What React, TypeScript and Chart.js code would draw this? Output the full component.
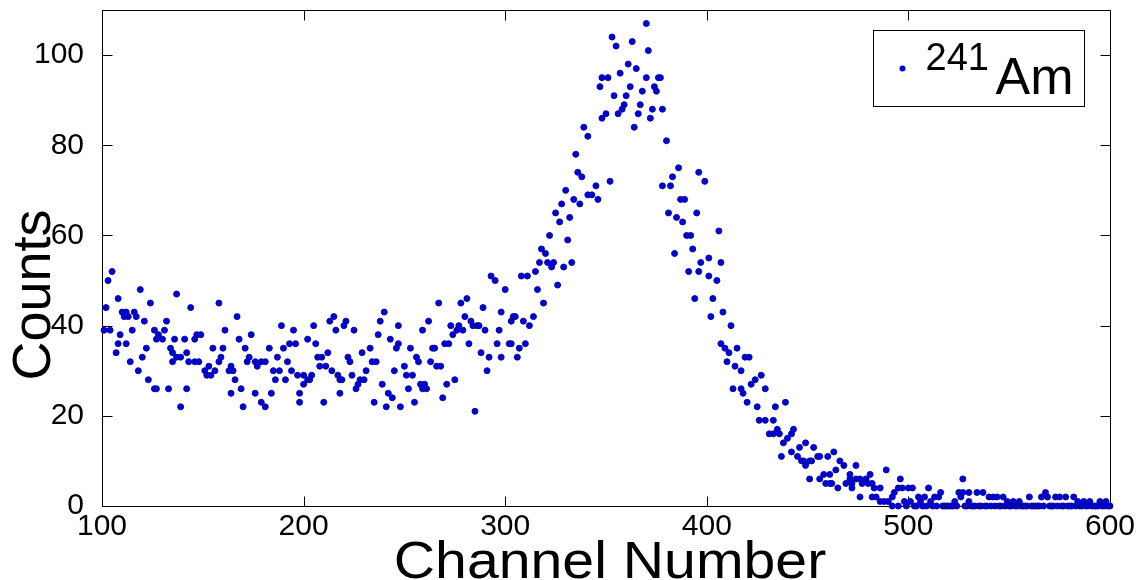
import { useEffect, useRef } from "react";
import { Chart, registerables } from "chart.js";

Chart.register(...registerables);

// 241Am pulse-height spectrum, channels 100–600
const ch100 = [
  101, 102, 103, 104, 105, 107, 108, 108, 109, 110,
  111, 112, 112, 113, 114, 115, 116, 117, 118, 119,
  120, 121, 122, 123, 124, 126, 126, 127, 127, 128,
  130, 131, 132, 133, 134, 135, 135, 136, 137, 137,
  139, 139, 141, 142, 142, 143, 144, 146, 146, 147,
  148, 149, 151, 152, 153, 154, 155, 156, 158, 158,
  159, 160, 161, 163, 164, 164, 165, 166, 167, 168,
  169, 170, 171, 172, 173, 174, 176, 176, 177, 179,
  179, 181, 181, 183, 184, 185, 186, 187, 188, 189,
  190, 191, 192, 193, 194, 195, 196, 197, 198, 198,
];
const cnt100 = [
  39, 44, 50, 39, 52, 34, 46, 36, 38, 43,
  42, 43, 36, 42, 32, 39, 43, 42, 30, 48,
  33, 41, 35, 28, 45, 39, 26, 37, 26, 38,
  37, 39, 41, 26, 35, 34, 32, 37, 47, 33,
  33, 22, 37, 34, 26, 32, 44, 37, 32, 38,
  32, 38, 30, 29, 31, 29, 35, 30, 45, 32,
  33, 35, 39, 30, 31, 25, 30, 28, 42, 37,
  26, 22, 35, 32, 33, 38, 32, 25, 31, 32,
  23, 32, 22, 35, 25, 30, 28, 33, 30, 40,
  35, 28, 32, 36, 30, 39, 36, 29, 25, 23,
];

const ch200 = [
  200, 200, 202, 202, 203, 204, 205, 206, 207, 208,
  209, 210, 211, 212, 213, 214, 215, 216, 217, 218,
  218, 219, 220, 221, 222, 223, 224, 225, 226, 227,
  228, 229, 230, 231, 233, 234, 235, 236, 237, 238,
  239, 240, 241, 242, 243, 244, 245, 246, 247, 247,
  248, 250, 251, 252, 253, 254, 255, 256, 257, 258,
  259, 259, 260, 261, 262, 263, 264, 265, 266, 267,
  268, 269, 270, 271, 272, 273, 274, 275, 276, 277,
  278, 279, 280, 281, 282, 283, 284, 285, 286, 287,
  288, 289, 290, 291, 292, 293, 295, 296, 297, 298,
  298,
];
const cnt200 = [
  29, 27, 37, 28, 28, 29, 40, 36, 33, 31,
  33, 23, 31, 34, 41, 30, 42, 39, 29, 28,
  25, 28, 40, 41, 33, 32, 29, 39, 26, 27,
  28, 34, 28, 30, 35, 32, 23, 32, 38, 41,
  27, 43, 22, 25, 37, 24, 30, 35, 40, 36,
  22, 31, 29, 26, 35, 29, 23, 33, 32, 27,
  39, 26, 27, 26, 41, 32, 35, 35, 31, 45,
  31, 24, 36, 27, 36, 40, 38, 28, 39, 40,
  45, 39, 42, 46, 36, 41, 40, 21, 40, 40,
  34, 44, 39, 30, 33, 51, 50, 36, 39, 33,
  43,
];

const ch300 = [
  300, 302, 303, 303, 304, 305, 306, 307, 308, 309,
  310, 311, 312, 314, 315, 316, 317, 318, 319, 320,
  321, 322, 323, 324, 325, 326, 327, 328, 329, 330,
  331, 332, 333, 334, 335, 336, 337, 338, 339, 341,
  341, 343, 345, 346, 347, 348, 348, 350, 351, 352,
  353, 354, 355, 356, 357, 358, 359, 360, 361, 362,
  363, 364, 365, 366, 367, 368, 370, 370, 371, 372,
  373, 374, 375, 376, 377, 378, 378, 380, 381, 382,
  383, 384, 385, 386, 387, 388, 389, 390, 391, 392,
  393, 394, 395, 396, 396, 397, 399,
];
const cnt300 = [
  48, 36, 36, 41, 42, 42, 33, 35, 51, 41,
  36, 51, 40, 42, 52, 48, 54, 57, 45, 56,
  54, 60, 53, 54, 65, 49, 63, 67, 53, 70,
  59, 64, 54, 68, 78, 74, 67, 73, 84, 82,
  69, 69, 71, 68, 93, 95, 86, 87, 95, 72,
  104, 91, 102, 87, 96, 88, 89, 91, 98, 93,
  103, 84, 97, 87, 89, 92, 107, 95, 101, 86,
  88, 93, 92, 95, 95, 88, 71, 81, 65, 71,
  73, 56, 64, 75, 68, 63, 68, 60, 52, 60,
  57, 46, 65, 74, 52, 54, 72,
];

const ch400 = [
  401, 401, 402, 403, 405, 406, 407, 407, 408, 409,
  410, 411, 412, 413, 414, 415, 417, 417, 418, 419,
  420, 421, 422, 424, 425, 426, 427, 429, 429, 431,
  433, 433, 434, 435, 436, 437, 438, 439, 440, 442,
  442, 443, 445, 446, 447, 448, 449, 449, 451, 451,
  452, 453, 455, 456, 456, 458, 459, 460, 461, 461,
  462, 463, 464, 465, 466, 468, 469, 471, 471, 472,
  472, 474, 474, 476, 476, 477, 479, 480, 481, 482,
  482, 483, 484, 486, 486, 488, 489, 490, 492, 492,
  493, 495, 495, 496, 497, 498, 499,
];
const cnt400 = [
  55, 51, 42, 46, 50, 61, 54, 36, 43, 35,
  32, 34, 40, 26, 31, 35, 30, 26, 25, 33,
  23, 33, 27, 28, 22, 19, 29, 26, 19, 16,
  19, 16, 22, 17, 16, 11, 14, 23, 15, 16,
  12, 17, 11, 13, 10, 10, 14, 9, 10, 6,
  10, 13, 11, 11, 6, 7, 5, 11, 7, 5,
  5, 12, 8, 4, 10, 9, 5, 7, 6, 5,
  4, 9, 6, 6, 2, 5, 6, 5, 7, 5,
  2, 4, 2, 4, 1, 1, 8, 1, 2, 0,
  3, 4, 0, 6, 4, 1, 0,
];

const ch500 = [
  500, 501, 502, 503, 504, 505, 506, 507, 508, 509,
  510, 511, 512, 513, 514, 515, 516, 517, 518, 519,
  520, 521, 522, 523, 524, 525, 526, 527, 527, 528,
  529, 530, 530, 531, 532, 533, 534, 535, 536, 537,
  538, 539, 540, 541, 542, 543, 544, 545, 546, 547,
  548, 549, 550, 551, 552, 553, 554, 555, 556, 557,
  558, 559, 560, 561, 562, 563, 564, 565, 566, 567,
  568, 569, 570, 571, 572, 573, 574, 575, 576, 577,
  578, 579, 580, 581, 582, 583, 584, 585, 586, 587,
  588, 589, 590, 591, 592, 593, 594, 595, 596, 597,
  598, 599, 600,
];
const cnt500 = [
  4, 1, 4, 0, 0, 2, 1, 0, 2, 0,
  4, 1, 0, 2, 0, 2, 3, 0, 0, 0,
  0, 0, 0, 1, 0, 3, 2, 6, 3, 0,
  0, 3, 1, 0, 0, 0, 3, 0, 0, 3,
  0, 0, 2, 0, 2, 0, 2, 0, 0, 2,
  0, 1, 0, 0, 1, 0, 0, 1, 0, 0,
  0, 0, 2, 0, 0, 0, 0, 0, 2, 0,
  3, 2, 0, 0, 0, 2, 0, 2, 0, 0,
  2, 0, 0, 0, 2, 0, 1, 0, 0, 1,
  0, 0, 1, 0, 0, 0, 0, 1, 0, 0,
  1, 0, 0,
];

const channels = [...ch100, ...ch200, ...ch300, ...ch400, ...ch500];
const counts = [...cnt100, ...cnt200, ...cnt300, ...cnt400, ...cnt500];

const xTicks = [100, 200, 300, 400, 500, 600];
const yTicks = [0, 20, 40, 60, 80, 100];
const xRange = [100, 600];
const yRange = [0, 110];

const xTitle = "Channel Number";
const yTitle = "Counts";
const legendMass = "241";
const legendElement = "Am";

const FONT = "'Liberation Sans', Arial, Helvetica, sans-serif";
const DOT_FILL = "#0000dc";
const DOT_EDGE = "#0a0a9c";

// Box frame with inward ticks, axis titles and the isotope legend
const framePlugin = {
  id: "boxFrame",
  beforeDatasetsDraw(chart: any) {
    const { ctx, chartArea: a, scales } = chart;
    const L = Math.round(a.left) + 0.5;
    const R = Math.round(a.right) + 0.5;
    const T = Math.round(a.top) + 0.5;
    const B = Math.round(a.bottom) + 0.5;
    const tick = 10;
    ctx.save();
    ctx.strokeStyle = "#000";
    ctx.lineWidth = 1;
    ctx.strokeRect(L, T, R - L, B - T);
    ctx.beginPath();
    for (const v of xTicks) {
      const x = Math.round(scales.x.getPixelForValue(v)) + 0.5;
      ctx.moveTo(x, B);
      ctx.lineTo(x, B - tick);
      ctx.moveTo(x, T);
      ctx.lineTo(x, T + tick);
    }
    for (const v of yTicks) {
      const y = Math.round(scales.y.getPixelForValue(v)) + 0.5;
      ctx.moveTo(L, y);
      ctx.lineTo(L + tick, y);
      ctx.moveTo(R, y);
      ctx.lineTo(R - tick, y);
    }
    ctx.stroke();

    ctx.fillStyle = "#000";
    ctx.textAlign = "center";
    ctx.textBaseline = "alphabetic";

    ctx.save();
    ctx.font = `52px ${FONT}`;
    ctx.translate((a.left + a.right) / 2 + 4, 578);
    ctx.scale(1.1, 1);
    ctx.fillText(xTitle, 0, 0);
    ctx.restore();

    ctx.font = `54px ${FONT}`;
    ctx.translate(50, 295);
    ctx.rotate(-Math.PI / 2);
    ctx.fillText(yTitle, 0, 0);
    ctx.restore();
  },
  afterDraw(chart: any) {
    const { ctx, chartArea: a } = chart;
    const w = 211;
    const h = 76;
    const left = Math.round(a.right) - 26 - w + 0.5;
    const top = Math.round(a.top) + 20 + 0.5;
    ctx.save();
    ctx.fillStyle = "#fff";
    ctx.fillRect(left, top, w, h);
    ctx.strokeStyle = "#000";
    ctx.lineWidth = 1;
    ctx.strokeRect(left, top, w, h);

    ctx.beginPath();
    ctx.arc(left + 29, top + 38, 3, 0, Math.PI * 2);
    ctx.fillStyle = DOT_FILL;
    ctx.fill();

    ctx.fillStyle = "#000";
    ctx.textAlign = "left";
    ctx.textBaseline = "alphabetic";
    ctx.font = `38px ${FONT}`;
    ctx.fillText(legendMass, left + 52, top + 39);
    ctx.font = `52px ${FONT}`;
    ctx.fillText(legendElement, left + 122, top + 63);
    ctx.restore();
  },
};

export default function App() {
  const canvasRef = useRef<HTMLCanvasElement | null>(null);

  useEffect(() => {
    const canvas = canvasRef.current;
    if (!canvas) return;
    const chart = new Chart(canvas, {
      type: "scatter",
      data: {
        datasets: [
          {
            label: legendMass + legendElement,
            data: channels.map((c, i) => ({ x: c, y: counts[i] })),
            backgroundColor: DOT_FILL,
            borderColor: DOT_EDGE,
            borderWidth: 1,
            pointRadius: 3,
            pointHoverRadius: 3,
            clip: false as any,
          },
        ],
      },
      options: {
        responsive: false,
        animation: false,
        events: [],
        layout: { padding: { left: 0, top: 10, right: 33, bottom: 0 } },
        plugins: {
          legend: { display: false },
          tooltip: { enabled: false },
        },
        scales: {
          x: {
            type: "linear",
            min: xRange[0],
            max: xRange[1],
            grid: { display: false },
            border: { display: false },
            ticks: {
              color: "#000",
              font: { family: FONT, size: 30 },
              padding: -5,
              maxRotation: 0,
              autoSkip: false,
            },
            afterBuildTicks: (scale: any) => {
              scale.ticks = xTicks.map((v) => ({ value: v }));
            },
            afterFit: (scale: any) => {
              scale.height = 74;
              scale.paddingLeft = 0;
              scale.paddingRight = 0;
            },
          },
          y: {
            type: "linear",
            min: yRange[0],
            max: yRange[1],
            grid: { display: false },
            border: { display: false },
            ticks: {
              color: "#000",
              font: { family: FONT, size: 30 },
              padding: 10,
              autoSkip: false,
            },
            afterBuildTicks: (scale: any) => {
              scale.ticks = yTicks.map((v) => ({ value: v }));
            },
            afterFit: (scale: any) => {
              scale.width = 102;
              scale.paddingTop = 0;
              scale.paddingBottom = 0;
            },
          },
        },
      },
      plugins: [framePlugin],
    });
    return () => chart.destroy();
  }, []);

  return (
    <div
      style={{
        position: "fixed",
        left: 0,
        top: 0,
        width: 1143,
        height: 580,
        background: "#fff",
      }}
    >
      <canvas ref={canvasRef} width={1143} height={580} />
    </div>
  );
}
